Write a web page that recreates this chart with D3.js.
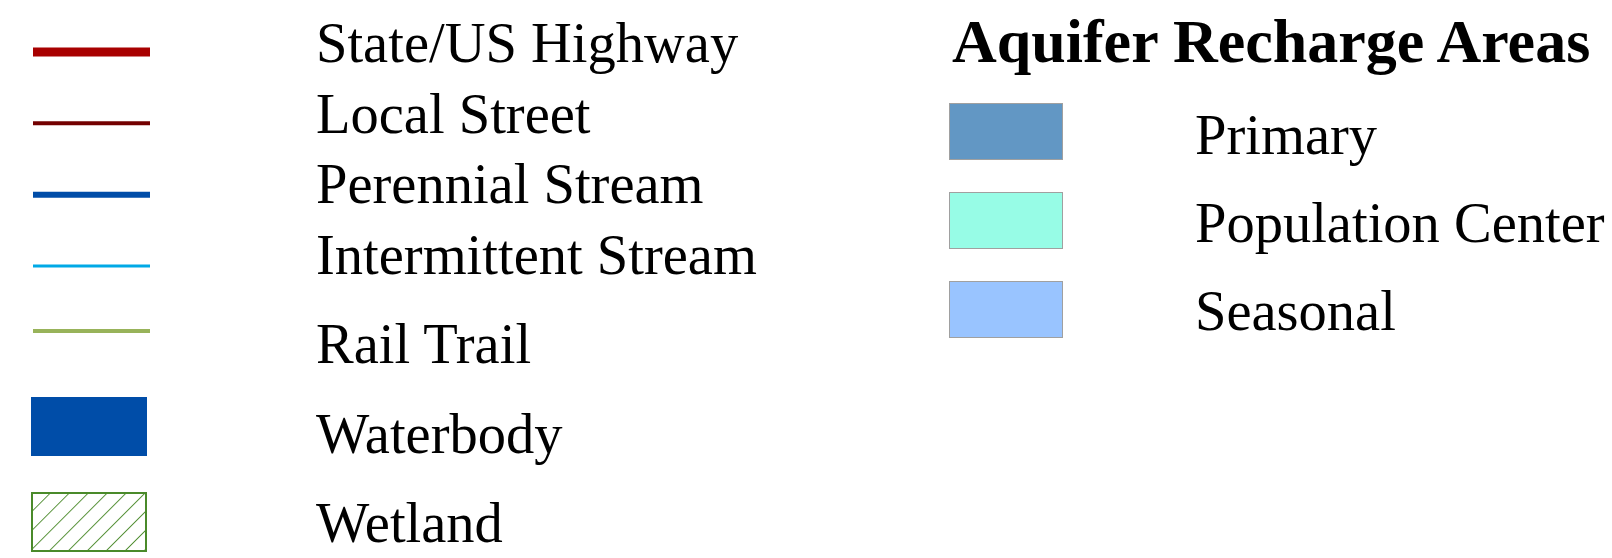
<!DOCTYPE html>
<html>
<head>
<meta charset="utf-8">
<script src="https://cdn.jsdelivr.net/npm/d3@7"></script>
<style>
  html, body { margin: 0; background: #fff; }
  svg { display: block; }
  text { font-family: "Liberation Serif", "Times New Roman", serif; fill: #000; }
</style>
</head>
<body>
<div id="chart"></div>
<script>
// ── legend content ───────────────────────────────────────────────────────────
const mapLayers   = ['State/US Highway', 'Local Street', 'Perennial Stream',
                     'Intermittent Stream', 'Rail Trail', 'Waterbody', 'Wetland'];
const layerKinds  = ['line', 'line', 'line', 'line', 'line', 'fill', 'hatch'];
const aquiferTitle = 'Aquifer Recharge Areas';
const aquiferAreas = ['Primary', 'Population Center', 'Seasonal'];

// ── styles ───────────────────────────────────────────────────────────────────
const layerColor = d3.scaleOrdinal()
  .domain(mapLayers)
  .range(['#a80000', '#730000', '#004da8', '#00a9e6', '#98b35a', '#004da8', '#4a8a2a']);
const layerStroke = d3.scaleOrdinal()
  .domain(mapLayers)
  .range([9, 4, 6, 3, 4, 0, 0]);
const aquiferColor = d3.scaleOrdinal()
  .domain(aquiferAreas)
  .range(['#6297c4', '#97fce6', '#99c4ff']);

const width = 1612, height = 558;

// row positions (two groups of rows, different spacing)
const yLabel  = d3.scaleLinear().domain([0, 3, 4, 6]).range([62, 274, 363, 542]);
const ySymbol = d3.scaleLinear().domain([0, 3, 4, 6]).range([52, 266, 331, 522]);
const yAqLabel  = d3.scaleLinear().domain([0, aquiferAreas.length - 1]).range([154, 330]);
const yAqSymbol = d3.scaleLinear().domain([0, aquiferAreas.length - 1]).range([131.5, 309]);

// symbol columns
const symLeft  = d3.scaleLinear().domain([0, 1]).range([33, 150]);   // left swatches
const symRight = d3.scaleLinear().domain([0, 1]).range([949, 1062]);  // aquifer swatches

const svg = d3.select('#chart')
  .append('svg')
    .attr('width', width)
    .attr('height', height);

// wetland hatch pattern
svg.append('defs')
  .append('pattern')
    .attr('id', 'wetland-hatch')
    .attr('patternUnits', 'userSpaceOnUse')
    .attr('width', 13.4)
    .attr('height', 13.4)
    .attr('patternTransform', 'translate(31,0) rotate(45)')
  .append('line')
    .attr('x1', 0).attr('y1', 0)
    .attr('x2', 0).attr('y2', 13.4)
    .attr('stroke', layerColor('Wetland'))
    .attr('stroke-width', 1.8);

// ── left legend ──────────────────────────────────────────────────────────────
const rows = svg.append('g').attr('class', 'layers')
  .selectAll('g')
  .data(mapLayers)
  .join('g');

rows.filter((d, i) => layerKinds[i] === 'line')
  .append('line')
    .attr('x1', symLeft(0))
    .attr('x2', symLeft(1))
    .attr('y1', d => ySymbol(mapLayers.indexOf(d)))
    .attr('y2', d => ySymbol(mapLayers.indexOf(d)))
    .attr('stroke', d => layerColor(d))
    .attr('stroke-width', d => layerStroke(d));

rows.filter((d, i) => layerKinds[i] === 'fill')
  .append('rect')
    .attr('x', symLeft(0) - 2)
    .attr('width', symLeft(1) - symLeft(0) - 1)
    .attr('y', d => ySymbol(mapLayers.indexOf(d)) - 29.5)
    .attr('height', 59)
    .attr('fill', d => layerColor(d));

rows.filter((d, i) => layerKinds[i] === 'hatch')
  .append('rect')
    .attr('x', symLeft(0) - 1)
    .attr('width', symLeft(1) - symLeft(0) - 3)
    .attr('y', d => ySymbol(mapLayers.indexOf(d)) - 29)
    .attr('height', 58)
    .attr('fill', 'url(#wetland-hatch)')
    .attr('stroke', d => layerColor(d))
    .attr('stroke-width', 2);

rows.append('text')
  .attr('x', 316)
  .attr('y', (d, i) => yLabel(i))
  .attr('font-size', 56.5)
  .text(d => d);

// ── aquifer legend ───────────────────────────────────────────────────────────
svg.append('text')
  .attr('x', 952)
  .attr('y', 62)
  .attr('font-size', 62)
  .attr('font-weight', 'bold')
  .text(aquiferTitle);

const aq = svg.append('g').attr('class', 'aquifer')
  .selectAll('g')
  .data(aquiferAreas)
  .join('g');

aq.append('rect')
  .attr('x', symRight(0) + 0.5)
  .attr('width', symRight(1) - symRight(0))
  .attr('y', (d, i) => Math.round(yAqSymbol(i) - 28.5) + 0.5)
  .attr('height', 56)
  .attr('fill', d => aquiferColor(d))
  .attr('stroke', '#a0a0a0')
  .attr('stroke-width', 1);

aq.append('text')
  .attr('x', 1195)
  .attr('y', (d, i) => yAqLabel(i))
  .attr('font-size', 56.5)
  .text(d => d);
</script>
</body>
</html>
